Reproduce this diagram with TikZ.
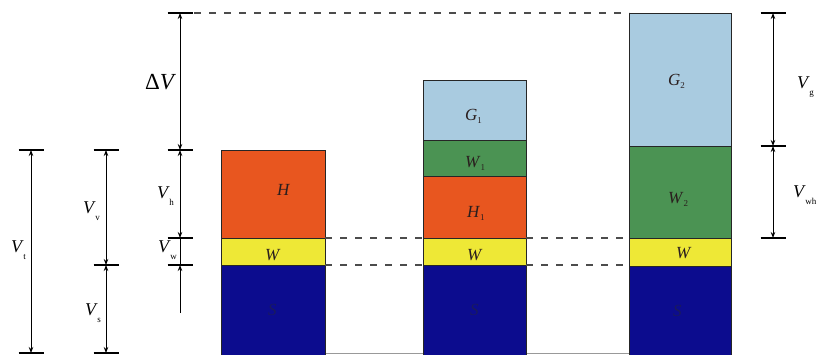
\documentclass[tikz,border=0pt]{standalone}
\usepackage{fontspec}
\setmainfont{Liberation Serif}
\usetikzlibrary{arrows.meta}
\definecolor{hcol}{HTML}{E8561F}
\definecolor{wcol}{HTML}{EEE836}
\definecolor{scol}{HTML}{0C0C8E}
\definecolor{gcol}{HTML}{A9CBE0}
\definecolor{ccol}{HTML}{4B9353}
\definecolor{labcol}{HTML}{2A1E1E}
\definecolor{slab}{HTML}{1A1A5E}
\newcommand{\dimlab}[2]{\textit{#1}\kern-0.5pt\raisebox{-7pt}{\fontsize{9}{9}\selectfont #2}}
\newcommand{\boxlab}[2]{\textit{#1}\raisebox{-3pt}{\fontsize{9}{9}\selectfont #2}}
\begin{document}
\begin{tikzpicture}[x=1pt,y=-1pt,
  layer/.style={draw=black!85,line width=0.7pt},
  dimline/.style={line width=0.9pt,{Stealth[length=6pt,width=4.5pt]}-{Stealth[length=6pt,width=4.5pt]}},
  uparrow/.style={line width=0.9pt,-{Stealth[length=6pt,width=4.5pt]}},
  plainline/.style={line width=0.9pt},
  ticky/.style={line width=1.3pt},
  guide/.style={dash pattern=on 7pt off 8pt, line width=1.1pt, draw=black!70},
  dlab/.style={anchor=base west, inner sep=0pt, font=\fontsize{18}{18}\selectfont},
  blab/.style={anchor=base west, inner sep=0pt, font=\fontsize{17}{17}\selectfont, text=labcol},
  sl/.style={blab, text=slab},
]
\useasboundingbox (0,0) rectangle (819,354);

% bottom grey line (behind the columns)
\draw[black!40,line width=1pt] (221,353.5) -- (731,353.5);

% ---- column 1
\filldraw[layer,fill=scol] (221,265) rectangle (325,358);
\filldraw[layer,fill=wcol] (221,238) rectangle (325,265);
\filldraw[layer,fill=hcol] (221,150) rectangle (325,238);
% ---- column 2
\filldraw[layer,fill=scol] (423,265) rectangle (526,358);
\filldraw[layer,fill=wcol] (423,238) rectangle (526,265);
\filldraw[layer,fill=hcol] (423,176) rectangle (526,238);
\filldraw[layer,fill=ccol] (423,140) rectangle (526,176);
\filldraw[layer,fill=gcol] (423,80) rectangle (526,140);
% ---- column 3
\filldraw[layer,fill=scol] (629,266) rectangle (731,358);
\filldraw[layer,fill=wcol] (629,238) rectangle (731,266);
\filldraw[layer,fill=ccol] (629,146) rectangle (731,238);
\filldraw[layer,fill=gcol] (629,13) rectangle (731,146);

% ---- box labels
\node[blab] (lH) at (277,195) {\textit{H}};
\node[blab] (lW1) at (265,260) {\textit{W}};
\node[sl] (lS1) at (268,315) {\textit{S}};
\node[blab] (lG1) at (465,120) {\boxlab{G}{1}};
\node[blab] (lWa) at (465,167) {\boxlab{W}{1}};
\node[blab] (lH1) at (467,217) {\boxlab{H}{1}};
\node[blab] (lW2) at (467,260) {\textit{W}};
\node[sl] (lS2) at (470,315) {\textit{S}};
\node[blab] (lG2) at (668,85) {\boxlab{G}{2}};
\node[blab] (lWb) at (668,203) {\boxlab{W}{2}};
\node[blab] (lW3) at (676,258) {\textit{W}};
\node[sl] (lS3) at (673,316) {\textit{S}};

% ---- tick coordinates
\coordinate (a1) at (31,150);  \coordinate (a2) at (31,353);
\coordinate (b1) at (106,150); \coordinate (b2) at (106,265); \coordinate (b3) at (106,353);
\coordinate (c0) at (180,13);  \coordinate (c1) at (180,150); \coordinate (c2) at (180,238);
\coordinate (c3) at (180,265); \coordinate (c4) at (180,313);
\coordinate (d0) at (773,13);  \coordinate (d1) at (773,146); \coordinate (d2) at (773,238);

% ticks
\foreach \p in {a1,a2,b1,b2,b3,c0,c1,c2,c3,d0,d1,d2}
  \draw[ticky] ([xshift=-12.5pt]\p) -- ([xshift=12.5pt]\p);

% dimension arrows
\draw[dimline] (a1) -- (a2);
\draw[dimline] (b1) -- (b2);
\draw[dimline] (b2) -- (b3);
\draw[dimline] (c0) -- (c1);
\draw[dimline] (c1) -- (c2);
\draw[plainline] (c2) -- (c3);
\draw[uparrow] (c4) -- (c3);
\draw[dimline] (d0) -- (d1);
\draw[dimline] (d1) -- (d2);

% dashed guides
\coordinate (g0) at (194,13);   \coordinate (g0e) at (629,13);
\coordinate (g1) at (325,238);  \coordinate (g1e) at (423,238);
\coordinate (g2) at (526,238);  \coordinate (g2e) at (629,238);
\coordinate (g3) at (325,265);  \coordinate (g3e) at (423,265);
\coordinate (g4) at (526,265);  \coordinate (g4e) at (629,265);
\draw[guide] (g0) -- (g0e);
\draw[guide] (g1) -- (g1e);
\draw[guide] (g2) -- (g2e);
\draw[guide] (g3) -- (g3e);
\draw[guide] (g4) -- (g4e);

% dimension labels
\node[dlab] (Vt) at (11,252) {\dimlab{V}{t}};
\node[dlab] (Vv) at (83,213) {\dimlab{V}{v}};
\node[dlab] (Vs) at (85,315) {\dimlab{V}{s}};
\node[dlab] (Vh) at (157,198) {\dimlab{V}{h}};
\node[dlab] (Vw) at (158,252) {\dimlab{V}{w}};
\node[dlab,font=\fontsize{23}{23}\selectfont] (dV) at (145,89) {Δ\textit{V}};
\node[dlab] (Vg) at (797,88) {\dimlab{V}{g}};
\node[dlab] (Vwh) at (793,197) {\dimlab{V}{wh}};
\end{tikzpicture}
\end{document}
